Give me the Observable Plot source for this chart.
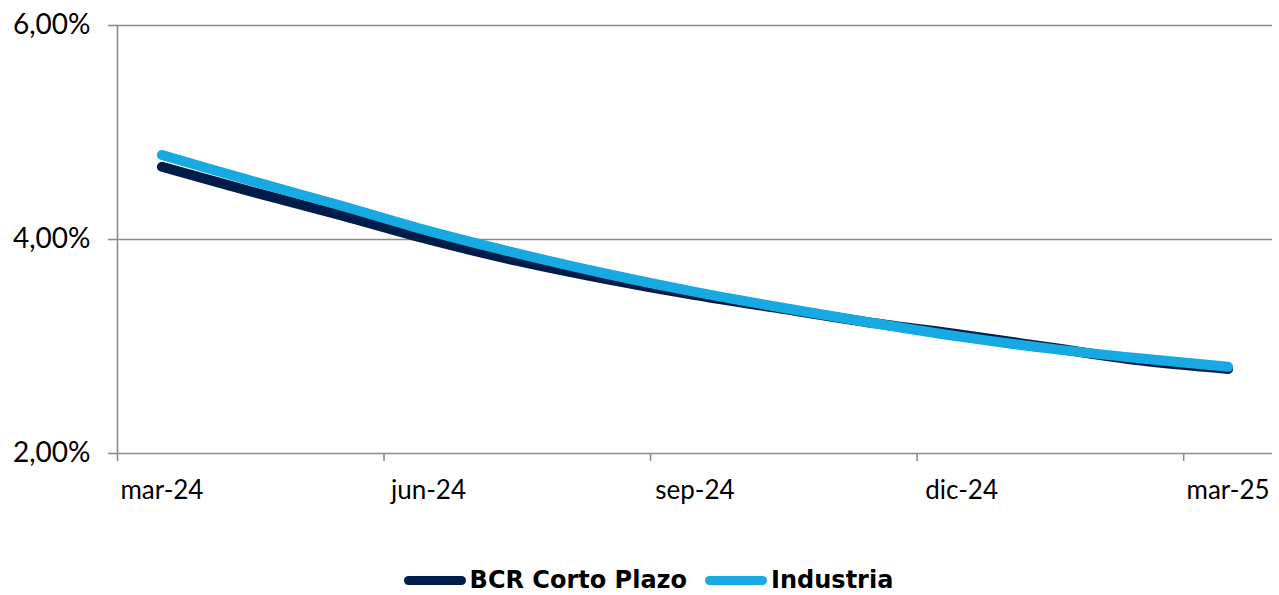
<!DOCTYPE html>
<html><head><meta charset="utf-8">
<script src="https://cdn.jsdelivr.net/npm/d3@7"></script>
<script src="https://cdn.jsdelivr.net/npm/@observablehq/plot@0.6"></script>
<style>
body{margin:0;background:#fff;}
#legend{display:flex;justify-content:center;align-items:center;gap:18px;font-family:"DejaVu Sans",sans-serif;font-weight:bold;font-size:24px;color:#000;padding-left:18px;height:40px;margin-top:15px;}
.item{display:flex;align-items:center;gap:4px}
.sw{width:62px;height:9px;border-radius:5px}
</style></head><body>
<div id="chart"></div><div id="legend"></div>
<script>
const months = ["mar-24","abr-24","may-24","jun-24","jul-24","ago-24","sep-24","oct-24","nov-24","dic-24","ene-25","feb-25","mar-25"];
const bcr = [4.68,4.45,4.23,4.00,3.80,3.63,3.48,3.35,3.22,3.11,2.99,2.87,2.79];
const industria = [4.79,4.55,4.32,4.08,3.87,3.68,3.51,3.36,3.22,3.09,2.98,2.89,2.81];
const seriesNames = ["BCR Corto Plazo","Industria"];
const colors = ["#001c48","#17a9e1"];
const yTicks = [2,4,6];
const labelIdx = [0,3,6,9,12];
const boundaryIdx = [-0.5,2.5,5.5,8.5,11.5];

const rows = [
  ...bcr.map((v,i)=>({i, v, s: seriesNames[0]})),
  ...industria.map((v,i)=>({i, v, s: seriesNames[1]}))
];
const grey = "#8c8c8c";
const fmt = d => d.toFixed(2).replace(".", ",") + "%";

const plot = Plot.plot({
  width: 1279, height: 545,
  marginTop: 25, marginBottom: 92, marginLeft: 117, marginRight: 7,
  x: {type: "linear", domain: [-0.5, 12.5], axis: null},
  y: {domain: [2, 6], axis: null},
  color: {domain: seriesNames, range: colors},
  style: {fontFamily: "Lato, sans-serif", fontSize: "26px", color: "#000", background: "#fff"},
  marks: [
    Plot.ruleY(yTicks, {stroke: grey, strokeWidth: 1.6}),
    Plot.ruleX([-0.5], {stroke: grey, strokeWidth: 1.6}),
    Plot.axisY({ticks: yTicks, tickSize: 9, tickPadding: 18, tickFormat: fmt, label: null, stroke: grey, strokeWidth: 1.6, fill: "#000", fontSize: 28}),
    Plot.axisX({ticks: boundaryIdx, tickSize: 8, tickFormat: () => "", label: null, stroke: grey, strokeWidth: 1.6}),
    Plot.axisX({ticks: labelIdx, tickSize: 0, tickPadding: 27, tickFormat: i => months[i], label: null, fill: "#000"}),
    Plot.line(rows, {x: "i", y: "v", z: "s", stroke: "s", strokeWidth: 10, curve: "catmull-rom", strokeLinecap: "round", strokeLinejoin: "round"})
  ]
});
document.getElementById("chart").appendChild(plot);

const leg = document.getElementById("legend");
seriesNames.forEach((n, k) => {
  const it = document.createElement("div"); it.className = "item";
  const sw = document.createElement("div"); sw.className = "sw"; sw.style.background = colors[k];
  const t = document.createElement("span"); t.textContent = n;
  it.appendChild(sw); it.appendChild(t); leg.appendChild(it);
});
</script>
</body></html>
